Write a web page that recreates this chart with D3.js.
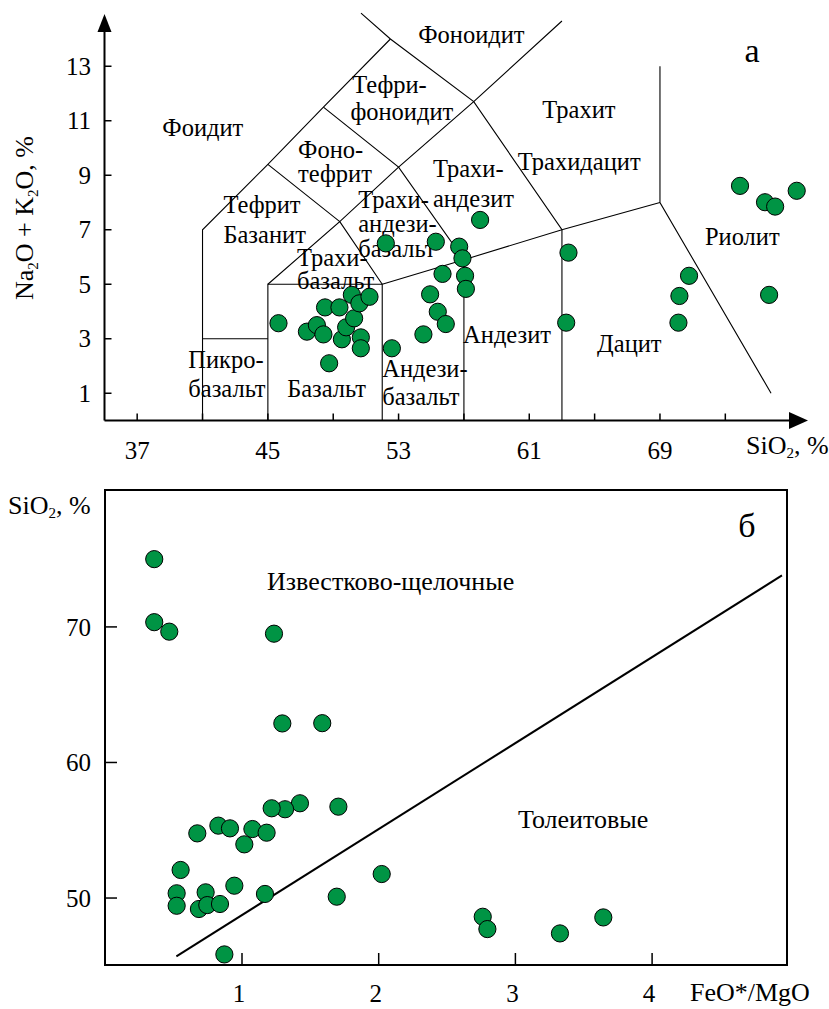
<!DOCTYPE html>
<html>
<head>
<meta charset="utf-8">
<script src="https://cdn.jsdelivr.net/npm/d3@7"></script>
<style>
body { margin: 0; background: #fff; }
text { font-family: "Liberation Serif", "DejaVu Serif", serif; fill: #000; }
</style>
</head>
<body>
<div id="display"></div>
<script>

// --- chart a: TAS, SiO2 vs Na2O+K2O ---
var tasSiO2 = [45.65, 47.39, 48.0, 48.4, 48.5, 49.38, 49.53, 49.79, 50.14, 50.28, 50.6, 50.69, 50.69, 51.22,
               48.75, 52.22, 52.59, 54.52, 54.93, 55.4, 55.89, 55.69, 55.28, 56.71, 56.91, 57.07, 57.12, 57.99,
               63.4, 63.26, 70.78, 70.19, 70.13, 73.9, 75.43, 76.05, 77.37, 75.68];
var tasAlk   = [3.57, 3.26, 3.5, 3.16, 4.15, 4.15, 2.98, 3.42, 4.61, 3.75, 4.3, 3.05, 2.65, 4.54,
               2.1, 6.5, 2.65, 3.16, 4.63, 3.99, 3.54, 5.38, 6.56, 6.38, 5.95, 5.31, 4.83, 7.36,
               6.16, 3.59, 5.31, 4.57, 3.59, 8.61, 8.01, 7.85, 8.43, 4.61];

var tasXTicks = [37, 41, 45, 49, 53, 57, 61, 65, 69, 73];
var tasXLabels = [37, 45, 53, 61, 69];
var tasYTicks = [1, 3, 5, 7, 9, 11, 13];

// field boundaries (SiO2, alk)
var tasLines = [
  [[41, 0], [41, 7], [45, 9.4], [48.4, 11.5], [52.5, 14]],
  [[41, 3], [45, 3]],
  [[45, 0], [45, 5], [52, 5], [52, 0]],
  [[45, 5], [49.4, 7.3], [52, 5]],
  [[52, 5], [57, 5.9], [63, 7], [69, 8]],
  [[57, 0], [57, 5.9]],
  [[63, 0], [63, 7], [57.6, 11.7], [52.5, 14], [50.7, 14.95]],
  [[45, 9.4], [49.4, 7.3], [53, 9.3], [57.6, 11.7], [63, 14.66]],
  [[48.4, 11.5], [53, 9.3], [57, 5.9]],
  [[69, 13], [69, 8], [75.8, 1]]
];

// field names, one entry per text line: start x (SiO2), baseline (alk)
var tasNames = [
  {t: "Фоноидит", x: 54.2, y: 13.85},
  {t: "Тефри-", x: 50.16, y: 12.02},
  {t: "фоноидит", x: 50.05, y: 11.03},
  {t: "Фоидит", x: 38.54, y: 10.44},
  {t: "Фоно-", x: 46.85, y: 9.63},
  {t: "тефрит", x: 46.85, y: 8.74},
  {t: "Тефрит", x: 42.28, y: 7.61},
  {t: "Базанит", x: 42.28, y: 6.51},
  {t: "Трахи-", x: 50.53, y: 7.8},
  {t: "андези-", x: 50.53, y: 6.9},
  {t: "базальт", x: 50.53, y: 6.0},
  {t: "Трахи-", x: 46.78, y: 5.68},
  {t: "базальт", x: 46.78, y: 4.84},
  {t: "Трахи-", x: 55.1, y: 8.94},
  {t: "андезит", x: 55.1, y: 7.83},
  {t: "Трахит", x: 61.8, y: 11.1},
  {t: "Трахидацит", x: 60.3, y: 9.19},
  {t: "Пикро-", x: 40.13, y: 1.93},
  {t: "базальт", x: 40.13, y: 0.86},
  {t: "Базальт", x: 46.18, y: 0.86},
  {t: "Андези-", x: 52.0, y: 1.6},
  {t: "базальт", x: 52.0, y: 0.57},
  {t: "Андезит", x: 56.95, y: 2.84},
  {t: "Дацит", x: 65.15, y: 2.51},
  {t: "Риолит", x: 71.75, y: 6.44}
];

// --- chart б: FeO*/MgO vs SiO2 ---
var feoMgo = [0.358, 0.358, 0.468, 1.234, 1.295, 1.587, 1.705, 1.424, 1.315, 1.217, 0.827, 0.912, 1.076, 1.18,
              0.673, 1.017, 0.551, 2.022, 0.522, 0.522, 0.734, 0.685, 0.746, 0.839, 0.944, 1.168, 1.693, 0.871,
              2.761, 2.795, 3.326, 3.643];
var sio2b  = [75.0, 70.35, 69.65, 69.5, 62.88, 62.9, 56.74, 56.99, 56.55, 56.62, 55.34, 55.14, 55.09, 54.82,
              54.77, 53.96, 52.07, 51.77, 50.35, 49.43, 50.42, 49.19, 49.48, 49.56, 50.91, 50.3, 50.1, 45.84,
              48.62, 47.71, 47.39, 48.57];
var bXTicks = [1, 2, 3, 4];
var bYTicks = [50, 60, 70];
var divider = [[0.52, 45.7], [4.95, 73.8]];

var green = "#009444";

var svg = d3.select("#display").append("svg")
    .attr("width", 829)
    .attr("height", 1009);

// ================= chart a =================
var xA = d3.scaleLinear().domain([35, 78]).range([104.5, 807]);
var yA = d3.scaleLinear().domain([0, 15]).range([420.5, 11.75]);

var ga = svg.append("g");

var line = d3.line()
    .x(function(d) { return xA(d[0]); })
    .y(function(d) { return yA(d[1]); });

ga.selectAll("path.field")
    .data(tasLines)
    .enter()
    .append("path")
    .attr("class", "field")
    .attr("d", line)
    .attr("fill", "none")
    .attr("stroke", "#000")
    .attr("stroke-width", 1.1);

// axes
ga.append("line").attr("x1", xA(35)).attr("x2", 792).attr("y1", yA(0)).attr("y2", yA(0))
    .attr("stroke", "#000").attr("stroke-width", 2);
ga.append("line").attr("x1", xA(35)).attr("x2", xA(35)).attr("y1", yA(0)).attr("y2", 30)
    .attr("stroke", "#000").attr("stroke-width", 2);
ga.append("path")
    .attr("d", "M789,412 L808," + yA(0) + " L789,429 Z").attr("fill", "#000");
ga.append("path")
    .attr("d", "M" + (xA(35) - 7) + ",32 L" + xA(35) + ",14 L" + (xA(35) + 7) + ",32 Z").attr("fill", "#000");

ga.selectAll("line.xt").data(tasXTicks).enter().append("line")
    .attr("x1", function(d) { return xA(d); }).attr("x2", function(d) { return xA(d); })
    .attr("y1", yA(0)).attr("y2", yA(0) - 7)
    .attr("stroke", "#000").attr("stroke-width", 1.5);
ga.selectAll("text.xl").data(tasXLabels).enter().append("text")
    .attr("x", function(d) { return xA(d); }).attr("y", 459)
    .attr("text-anchor", "middle").attr("font-size", 25)
    .text(function(d) { return d; });

ga.selectAll("line.yt").data(tasYTicks).enter().append("line")
    .attr("x1", xA(35)).attr("x2", xA(35) + 7)
    .attr("y1", function(d) { return yA(d); }).attr("y2", function(d) { return yA(d); })
    .attr("stroke", "#000").attr("stroke-width", 1.5);
ga.selectAll("text.yl").data(tasYTicks).enter().append("text")
    .attr("x", 91).attr("y", function(d) { return yA(d) + 8.5; })
    .attr("text-anchor", "end").attr("font-size", 25)
    .text(function(d) { return d; });

// axis titles
var yt = ga.append("text")
    .attr("transform", "translate(33,218) rotate(-90)")
    .attr("text-anchor", "middle").attr("font-size", 26);
yt.append("tspan").text("Na");
yt.append("tspan").attr("font-size", 15).attr("dy", 5).text("2");
yt.append("tspan").attr("dy", -5).text("O + K");
yt.append("tspan").attr("font-size", 15).attr("dy", 5).text("2");
yt.append("tspan").attr("dy", -5).text("O, %");

var xt = ga.append("text").attr("x", 746).attr("y", 454).attr("font-size", 26);
xt.append("tspan").text("SiO");
xt.append("tspan").attr("font-size", 15).attr("dy", 4).text("2");
xt.append("tspan").attr("dy", -4).text(", %");

ga.append("text").attr("x", 752).attr("y", 62).attr("text-anchor", "middle")
    .attr("font-size", 34).text("а");

// field names
ga.selectAll("text.name")
    .data(tasNames)
    .enter()
    .append("text")
    .attr("class", "name")
    .attr("x", function(d) { return xA(d.x); })
    .attr("y", function(d) { return yA(d.y); })
    .attr("font-size", 24.5)
    .text(function(d) { return d.t; });

// points
ga.selectAll("circle")
    .data(tasSiO2)
    .enter()
    .append("circle")
    .attr("cx", function(d) { return xA(d); })
    .attr("cy", function(d, i) { return yA(tasAlk[i]); })
    .attr("r", 8.6)
    .attr("fill", green)
    .attr("stroke", "#000")
    .attr("stroke-width", 1);

// ================= chart б =================
var xB = d3.scaleLinear().domain([0, 5]).range([105.3, 788.8]);
var yB = d3.scaleLinear().domain([45.06, 80.1]).range([965, 490]);

var gb = svg.append("g");

gb.append("rect")
    .attr("x", 105).attr("y", 490).attr("width", 682).attr("height", 475)
    .attr("fill", "none").attr("stroke", "#000").attr("stroke-width", 2);

gb.selectAll("line.xt").data(bXTicks).enter().append("line")
    .attr("x1", function(d) { return xB(d); }).attr("x2", function(d) { return xB(d); })
    .attr("y1", 965).attr("y2", 953)
    .attr("stroke", "#000").attr("stroke-width", 1.5);
gb.selectAll("text.xl").data(bXTicks).enter().append("text")
    .attr("x", function(d) { return xB(d) - 3; }).attr("y", 1002)
    .attr("text-anchor", "middle").attr("font-size", 25)
    .text(function(d) { return d; });

gb.selectAll("line.yt").data(bYTicks).enter().append("line")
    .attr("x1", 105).attr("x2", 117)
    .attr("y1", function(d) { return yB(d); }).attr("y2", function(d) { return yB(d); })
    .attr("stroke", "#000").attr("stroke-width", 1.5);
gb.selectAll("text.yl").data(bYTicks).enter().append("text")
    .attr("x", 91).attr("y", function(d) { return yB(d) + 9; })
    .attr("text-anchor", "end").attr("font-size", 25)
    .text(function(d) { return d; });

var yb = gb.append("text").attr("x", 8).attr("y", 514).attr("font-size", 26);
yb.append("tspan").text("SiO");
yb.append("tspan").attr("font-size", 15).attr("dy", 4).text("2");
yb.append("tspan").attr("dy", -4).text(", %");

gb.append("text").attr("x", 690).attr("y", 1001).attr("font-size", 26).text("FeO*/MgO");
gb.append("text").attr("x", 747).attr("y", 537).attr("text-anchor", "middle")
    .attr("font-size", 34).text("б");
gb.append("text").attr("x", 267).attr("y", 590).attr("font-size", 26).text("Известково-щелочные");
gb.append("text").attr("x", 518).attr("y", 828).attr("font-size", 26).text("Толеитовые");

gb.append("path")
    .datum(divider)
    .attr("d", d3.line().x(function(d) { return xB(d[0]); }).y(function(d) { return yB(d[1]); }))
    .attr("fill", "none").attr("stroke", "#000").attr("stroke-width", 2);

gb.selectAll("circle")
    .data(feoMgo)
    .enter()
    .append("circle")
    .attr("cx", function(d) { return xB(d); })
    .attr("cy", function(d, i) { return yB(sio2b[i]); })
    .attr("r", 8.6)
    .attr("fill", green)
    .attr("stroke", "#000")
    .attr("stroke-width", 1);

</script>
</body>
</html>
